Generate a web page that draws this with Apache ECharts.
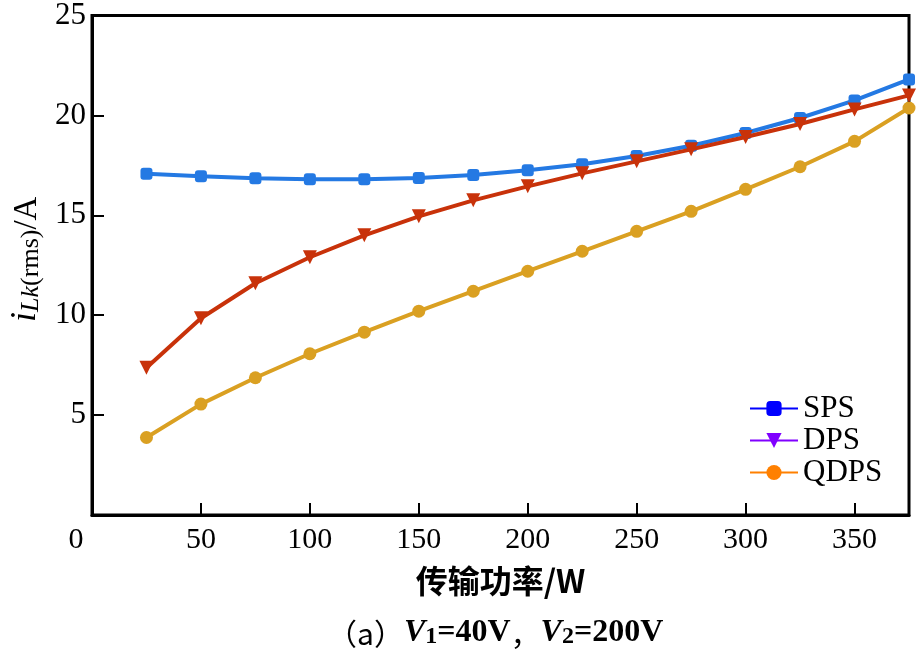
<!DOCTYPE html>
<html><head><meta charset="utf-8">
<script src="https://cdn.jsdelivr.net/npm/echarts@6/dist/echarts.min.js"></script>
<style>html,body{margin:0;padding:0;background:#fff}#c{width:922px;height:656px}</style>
</head><body><div id="c"></div>
<script>
const power = [25,50,75,100,125,150,175,200,225,250,275,300,325,350,375];
const sps  = [17.08,16.95,16.85,16.8,16.8,16.87,17.02,17.25,17.55,17.97,18.48,19.12,19.87,20.75,21.8];
const dps  = [7.37,9.85,11.6,12.9,14.0,14.95,15.75,16.45,17.1,17.7,18.3,18.92,19.57,20.3,21.0];
const qdps = [3.88,5.55,6.87,8.07,9.15,10.2,11.2,12.2,13.2,14.2,15.2,16.3,17.43,18.7,20.37];
const xTicks = [0,50,100,150,200,250,300,350];
const yTicks = [5,10,15,20,25];
const names = ['SPS','DPS','QDPS'];

const serif = '"Liberation Serif","Times New Roman",serif';
const cjk = '"Noto Sans CJK SC",sans-serif';
const chart = echarts.init(document.getElementById('c'), null, {renderer:'canvas'});
const mk = (arr)=>power.map((x,i)=>[x,arr[i]]);
chart.setOption({
  animation:false,
  grid:{left:86,top:13,right:13,bottom:141,show:true,borderColor:'#000',borderWidth:3,backgroundColor:'transparent'},
  xAxis:{type:'value',min:0,max:375,interval:50,
    axisLine:{show:true,lineStyle:{color:'#000',width:3}},
    axisTick:{show:true,inside:true,length:12,lineStyle:{color:'#000',width:2}},
    splitLine:{show:false},
    axisLabel:{color:'#000',fontFamily:serif,fontSize:30,margin:10,showMaxLabel:false,
      formatter:v=> v===0 ? '{z|0}' : String(v),
      rich:{z:{fontFamily:serif,fontSize:30,color:'#000',padding:[0,32,0,0]}}},
    name:'传输功率/W',nameLocation:'middle',nameGap:50,
    nameTextStyle:{color:'#000',fontFamily:cjk,fontSize:32,fontWeight:'bold'}
  },
  yAxis:{type:'value',min:0,max:25,interval:5,
    axisLine:{show:true,lineStyle:{color:'#000',width:3}},
    axisTick:{show:true,inside:true,length:12,lineStyle:{color:'#000',width:2}},
    splitLine:{show:false},
    axisLabel:{color:'#000',fontFamily:serif,fontSize:31,margin:6,showMinLabel:false},
    name:'{i|i}{s|Lk}{r|(rms)}{n|/A}',nameLocation:'middle',nameGap:48,nameRotate:90,
    nameTextStyle:{color:'#000',fontFamily:serif,fontSize:30,padding:[0,0,0,12],
      rich:{
        i:{fontFamily:serif,fontSize:36,fontStyle:'italic',color:'#000',verticalAlign:'bottom',lineHeight:38},
        s:{fontFamily:serif,fontSize:26,fontStyle:'italic',color:'#000',verticalAlign:'bottom',lineHeight:38,padding:[10,0,0,0]},
        r:{fontFamily:serif,fontSize:26,color:'#000',verticalAlign:'bottom',lineHeight:38,padding:[10,0,0,0]},
        n:{fontFamily:serif,fontSize:33,color:'#000',verticalAlign:'bottom',lineHeight:38}
      }}
  },
  legend:{orient:'vertical',left:744,top:388,itemGap:1,itemWidth:48,itemHeight:19,
    textStyle:{color:'#000',fontFamily:serif,fontSize:31,lineHeight:30},
    data:[
      {name:'SPS',itemStyle:{color:'#0000ff'},lineStyle:{color:'#0000ff',width:2}},
      {name:'DPS',itemStyle:{color:'#8000ff'},lineStyle:{color:'#8000ff',width:2}},
      {name:'QDPS',itemStyle:{color:'#ff8000'},lineStyle:{color:'#ff8000',width:2}}
    ]},
  title:{text:'{a|（a）}{v|V}{d|1}{n|=40V}{a|，}{v|V}{d|2}{n|=200V}',left:322,top:606,
    textStyle:{fontWeight:'normal',rich:{
      a:{fontFamily:cjk,fontSize:30,fontWeight:'normal',color:'#000',verticalAlign:'bottom',lineHeight:38},
      v:{fontFamily:serif,fontSize:32,fontWeight:'bold',fontStyle:'italic',color:'#000',verticalAlign:'bottom',lineHeight:38},
      d:{fontFamily:serif,fontSize:24,fontWeight:'bold',color:'#000',verticalAlign:'bottom',lineHeight:38,padding:[10,0,0,0]},
      n:{fontFamily:serif,fontSize:32,fontWeight:'bold',color:'#000',verticalAlign:'bottom',lineHeight:38}
    }}},
  series:[
    {name:names[0],type:'line',data:mk(sps),symbol:'roundRect',symbolSize:12,
      lineStyle:{color:'#2479e3',width:4},itemStyle:{color:'#2479e3'},z:3},
    {name:names[1],type:'line',data:mk(dps),symbol:'triangle',symbolRotate:180,symbolSize:14,
      lineStyle:{color:'#c8320a',width:4},itemStyle:{color:'#c8320a'},z:4},
    {name:names[2],type:'line',data:mk(qdps),symbol:'circle',symbolSize:13,
      lineStyle:{color:'#daa022',width:4},itemStyle:{color:'#daa022'},z:2}
  ]
});
</script></body></html>
